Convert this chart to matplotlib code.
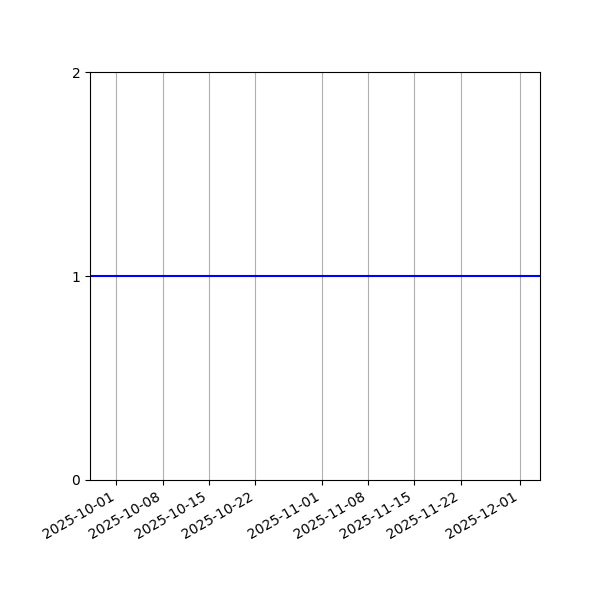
import numpy as np
import pandas as pd
import matplotlib
matplotlib.use("Agg")
import matplotlib.pyplot as plt

# daily series, flat at 1
dates = pd.date_range("2025-09-27", "2025-12-04", freq="D")
values = [1] * len(dates)
y_ticks = [0, 1, 2]

fig, ax = plt.subplots(figsize=(6, 6), dpi=100)
ax.plot(dates, values, color="blue", linewidth=1.5)
ax.set_xlim(dates[0], dates[-1])
ax.set_ylim(0, 2)
ax.set_yticks(y_ticks)
ax.grid(True, axis="x")
fig.autofmt_xdate()
fig.subplots_adjust(left=0.15, right=0.9, top=0.88, bottom=0.2)

fig.savefig("out.png")
